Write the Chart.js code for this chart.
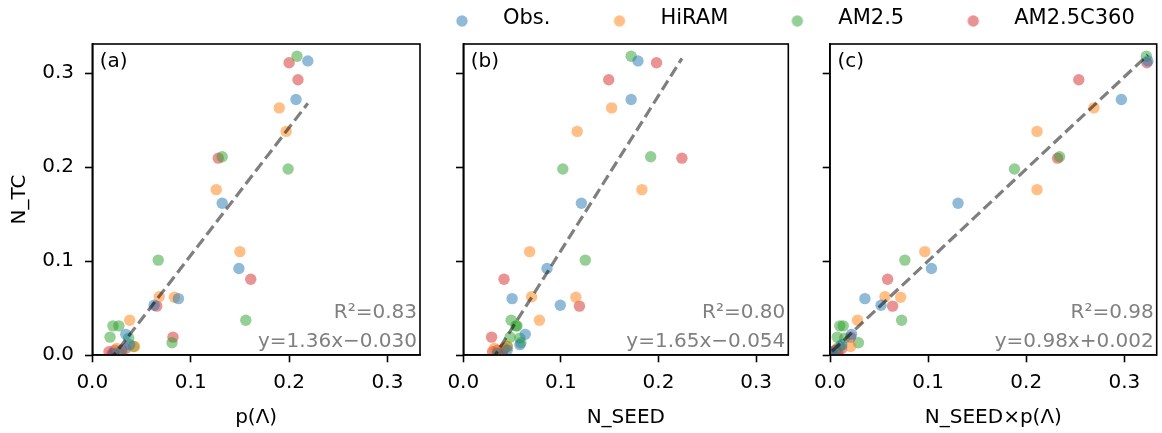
<!DOCTYPE html>
<html>
<head>
<meta charset="utf-8">
<script src="https://cdn.jsdelivr.net/npm/chart.js@4.4.1/dist/chart.umd.min.js"></script>
<style>
  html, body { margin: 0; padding: 0; background: #fff; overflow: hidden; }
  #fig { position: relative; width: 1162px; height: 433px; overflow: hidden; }
  #fig canvas { position: absolute; }
</style>
</head>
<body>
<div id="fig">
  <canvas id="legend" width="830" height="120" style="left:393px; top:-30px"></canvas>
  <canvas id="pa" width="440" height="433" style="left:0px; top:0px"></canvas>
  <canvas id="pb" width="360" height="433" style="left:430px; top:0px"></canvas>
  <canvas id="pc" width="362" height="433" style="left:800px; top:0px"></canvas>
</div>
<script>
// axis limits / labels
const xMax = 0.333
const yMax = 0.331
const panelTags = ['(a)', '(b)', '(c)']
const xTitles = ['p(Λ)', 'N_SEED', 'N_SEED×p(Λ)']
const yTitle = 'N_TC'

// regression stats per panel
const r2 = [0.83, 0.80, 0.98]
const slopes = [1.36, 1.65, 0.98]
const intercepts = [-0.030, -0.054, 0.002]

const seriesNames = ['Obs.', 'HiRAM', 'AM2.5', 'AM2.5C360']
const seriesColors = ['31,119,180', '255,127,14', '44,160,44', '214,39,40']

// Obs.
const obsNtc   = [0.313, 0.272, 0.1615, 0.092, 0.060, 0.053, 0.022, 0.011, 0.005, 0.002]
const obsP     = [0.219, 0.207, 0.132, 0.149, 0.0875, 0.0628, 0.034, 0.038, 0.030, 0.022]
const obsSeed  = [0.179, 0.172, 0.121, 0.0858, 0.050, 0.0994, 0.0635, 0.058, 0.045, 0.035]
const obsSeedP = [0.324, 0.297, 0.1305, 0.1034, 0.0356, 0.052, 0.022, 0.012, 0.006, 0.002]

// HiRAM
const hiramNtc   = [0.263, 0.238, 0.176, 0.110, 0.062, 0.0615, 0.037, 0.009, 0.007, 0.003]
const hiramP     = [0.190, 0.197, 0.126, 0.150, 0.068, 0.0834, 0.038, 0.043, 0.025, 0.030]
const hiramSeed  = [0.152, 0.1167, 0.183, 0.068, 0.070, 0.1153, 0.078, 0.045, 0.032, 0.038]
const hiramSeedP = [0.269, 0.211, 0.211, 0.0966, 0.056, 0.072, 0.028, 0.021, 0.007, 0.004]

// AM2.5
const am25Ntc   = [0.318, 0.211, 0.198, 0.101, 0.037, 0.031, 0.031, 0.019, 0.013, 0.018, 0.009]
const am25P     = [0.208, 0.132, 0.199, 0.067, 0.156, 0.021, 0.027, 0.018, 0.081, 0.037, 0.042]
const am25Seed  = [0.172, 0.192, 0.102, 0.125, 0.049, 0.054, 0.055, 0.048, 0.059, 0.058, 0.045]
const am25SeedP = [0.3225, 0.234, 0.188, 0.0763, 0.073, 0.010, 0.0135, 0.0074, 0.029, 0.015, 0.010]

// AM2.5C360
const c360Ntc   = [0.311, 0.293, 0.2095, 0.0806, 0.052, 0.019, 0.007, 0.005, 0.0035, 0.002, 0.001]
const c360P     = [0.200, 0.209, 0.128, 0.161, 0.0655, 0.082, 0.034, 0.023, 0.017, 0.028, 0.020]
const c360Seed  = [0.198, 0.149, 0.224, 0.0417, 0.119, 0.029, 0.042, 0.035, 0.030, 0.038, 0.040]
const c360SeedP = [0.323, 0.2536, 0.232, 0.0587, 0.0638, 0.021, 0.012, 0.006, 0.003, 0.008, 0.002]

const nTC = [obsNtc, hiramNtc, am25Ntc, c360Ntc]
const xByPanel = [
  [obsP, hiramP, am25P, c360P],
  [obsSeed, hiramSeed, am25Seed, c360Seed],
  [obsSeedP, hiramSeedP, am25SeedP, c360SeedP]
]

Chart.defaults.font.family = "'DejaVu Sans', sans-serif"
Chart.defaults.font.size = 20
Chart.defaults.color = '#000'

const fill = (k) => 'rgba(' + seriesColors[k] + ',0.5)'

// frame, panel tag and fit text
const panelDecor = {
  id: 'panelDecor',
  afterDraw(chart, args, opts) {
    const { ctx, chartArea: a } = chart
    ctx.save()
    ctx.strokeStyle = '#000'
    ctx.lineWidth = 1.6
    ctx.strokeRect(a.left, a.top, a.right - a.left, a.bottom - a.top)
    ctx.font = "20px 'DejaVu Sans'"
    ctx.textBaseline = 'alphabetic'
    ctx.fillStyle = '#000'
    ctx.textAlign = 'left'
    ctx.fillText(opts.tag, a.left + 7.5, a.top + 22.5)
    ctx.fillStyle = '#808080'
    ctx.textAlign = 'right'
    ctx.fillText(opts.lines[0], a.right - 3, a.bottom - 36.7)
    ctx.fillText(opts.lines[1], a.right - 3, a.bottom - 8.3)
    ctx.restore()
  }
}

const tickOpts = (show, pad) => ({
  display: show, stepSize: 0.1, includeBounds: false, padding: pad,
  maxRotation: 0, color: '#000', callback: (v) => v.toFixed(1)
})
const gridOpts = { drawOnChartArea: false, drawTicks: true, tickLength: 7.3, tickWidth: 1.6, tickColor: '#000' }
const borderOpts = { display: true, color: '#000', width: 1.6 }

function makePanel(id, i, yAxisWidth, padRight) {
  const datasets = seriesNames.map((name, k) => ({
    label: name,
    data: nTC[k].map((y, j) => ({ x: xByPanel[i][k][j], y })),
    backgroundColor: fill(k),
    pointBackgroundColor: fill(k),
    pointBorderWidth: 0,
    pointRadius: 5.7,
    order: 1
  }))
  const allX = xByPanel[i].flat()
  const x0 = Math.min(...allX), x1 = Math.max(...allX)
  datasets.push({
    label: 'fit',
    data: [x0, x1].map(x => ({ x, y: slopes[i] * x + intercepts[i] })),
    showLine: true,
    borderColor: 'rgba(0,0,0,0.5)',
    borderWidth: 3.2,
    borderDash: [11, 5],
    pointRadius: 0,
    order: 0
  })
  const b = intercepts[i]
  const lines = [
    'R²=' + r2[i].toFixed(2),
    'y=' + slopes[i].toFixed(2) + 'x' + (b < 0 ? '−' : '+') + Math.abs(b).toFixed(3)
  ]
  return new Chart(document.getElementById(id), {
    type: 'scatter',
    data: { datasets },
    plugins: [panelDecor],
    options: {
      responsive: false,
      animation: false,
      events: [],
      layout: { autoPadding: false, padding: { left: 0, top: 44, right: padRight, bottom: 0 } },
      scales: {
        x: {
          type: 'linear', position: 'bottom', min: 0, max: xMax,
          afterFit: (s) => { s.height = 78 },
          ticks: tickOpts(true, 8),
          grid: gridOpts,
          border: borderOpts,
          title: { display: true, text: xTitles[i], color: '#000', padding: { top: 0, bottom: 3 } }
        },
        y: {
          type: 'linear', position: 'left', min: 0, max: yMax,
          afterFit: (s) => { s.width = yAxisWidth },
          ticks: tickOpts(i === 0, 11),
          grid: gridOpts,
          border: borderOpts,
          title: { display: i === 0, text: yTitle, color: '#000', padding: { top: 8, bottom: 0 } }
        }
      },
      plugins: {
        legend: { display: false },
        tooltip: { enabled: false },
        panelDecor: { tag: panelTags[i], lines }
      }
    }
  })
}

makePanel('pa', 0, 92.3, 20)
makePanel('pb', 1, 33.3, 1.7)
makePanel('pc', 2, 30, 5.3)

// legend marker image
function dotImage(k) {
  const c = document.createElement('canvas')
  c.width = 22
  c.height = 22
  const g = c.getContext('2d')
  g.fillStyle = fill(k)
  g.beginPath()
  g.arc(11, 13, 5.7, 0, Math.PI * 2)
  g.fill()
  return c
}

new Chart(document.getElementById('legend'), {
  type: 'scatter',
  data: {
    datasets: seriesNames.map((name, k) => ({
      label: name, data: [], pointStyle: dotImage(k), backgroundColor: fill(k)
    }))
  },
  options: {
    responsive: false,
    animation: false,
    events: [],
    layout: { autoPadding: false, padding: 0 },
    scales: { x: { display: false }, y: { display: false } },
    plugins: {
      tooltip: { enabled: false },
      legend: {
        display: true, position: 'top', align: 'start',
        labels: { usePointStyle: true, pointStyleWidth: 61, padding: 38.5, color: '#000', font: { size: 21 } }
      }
    }
  }
})
</script>
</body>
</html>
